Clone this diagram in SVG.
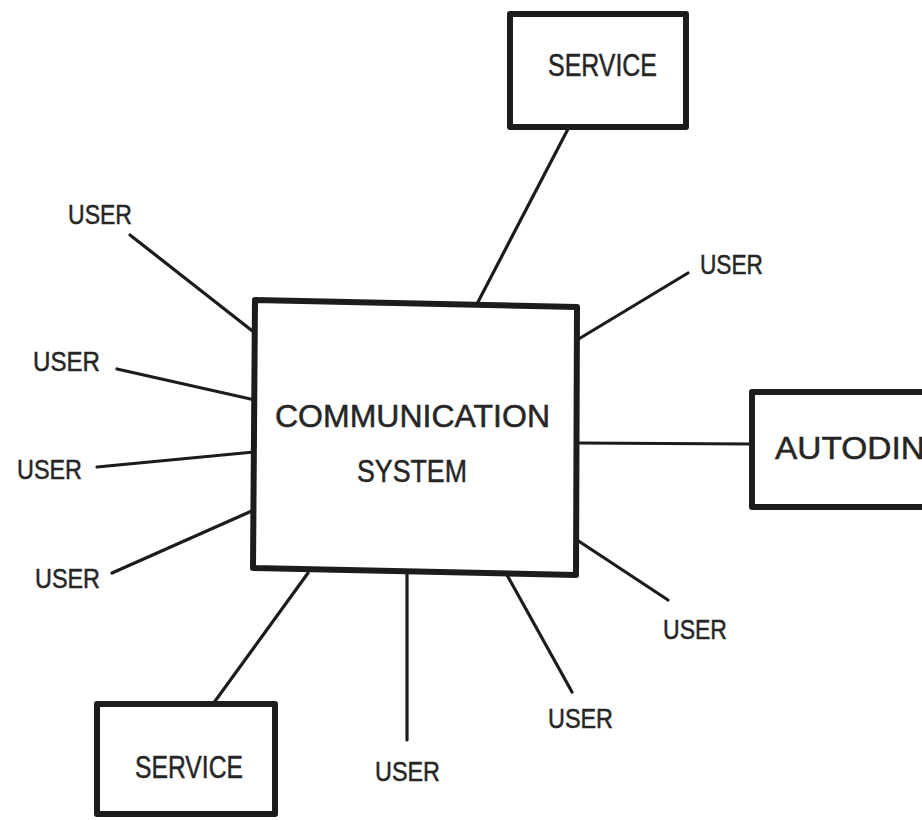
<svg xmlns="http://www.w3.org/2000/svg" width="922" height="820" viewBox="0 0 922 820">
<style>
.box{fill:#fff;stroke:#1c1c1c;stroke-width:6;stroke-linejoin:round}
.ln{stroke:#1c1c1c;stroke-width:3.2;stroke-linecap:round;fill:none}
text{font-family:"Liberation Sans",Arial,sans-serif;fill:#262626;stroke:#262626;stroke-width:0.5}
.u{font-size:28px}
.s{font-size:32px}
.c{font-size:32px}
</style>
<rect width="922" height="820" fill="#fff"/>
<g id="connectors">
<line class="ln" x1="568" y1="129" x2="478" y2="302"/>
<line class="ln" x1="130" y1="235" x2="255" y2="333"/>
<line class="ln" x1="117" y1="369" x2="255" y2="400"/>
<line class="ln" x1="97" y1="467" x2="254" y2="452"/>
<line class="ln" x1="112" y1="573" x2="254" y2="510"/>
<line class="ln" x1="688" y1="273" x2="577" y2="340"/>
<line class="ln" x1="577" y1="443" x2="752" y2="444"/>
<line class="ln" x1="577" y1="540" x2="668" y2="600"/>
<line class="ln" x1="507" y1="575" x2="572" y2="692"/>
<line class="ln" x1="407" y1="573" x2="407" y2="740"/>
<line class="ln" x1="308" y1="573" x2="213" y2="704"/>
</g>
<g id="comm">
<path class="box" d="M255,300 L577,307 L576,575 L253,568 Z"/>
<text class="c" x="275" y="427" textLength="275" lengthAdjust="spacingAndGlyphs">COMMUNICATION</text>
<text class="c" x="357" y="482" textLength="110" lengthAdjust="spacingAndGlyphs">SYSTEM</text>
</g>
<g id="service-top">
<rect class="box" x="510" y="14" width="176" height="113"/>
<text class="s" x="548" y="76" textLength="109" lengthAdjust="spacingAndGlyphs">SERVICE</text>
</g>
<g id="service-bottom">
<rect class="box" x="97" y="704" width="178" height="110"/>
<text class="s" x="135" y="778" textLength="108" lengthAdjust="spacingAndGlyphs">SERVICE</text>
</g>
<g id="autodin">
<rect class="box" x="752" y="392" width="200" height="115"/>
<text class="s" x="775" y="459" textLength="150" lengthAdjust="spacingAndGlyphs">AUTODIN</text>
</g>
<g id="user1"><text class="u" x="68" y="224" textLength="64" lengthAdjust="spacingAndGlyphs">USER</text></g>
<g id="user2"><text class="u" x="33" y="371" textLength="67" lengthAdjust="spacingAndGlyphs">USER</text></g>
<g id="user3"><text class="u" x="17" y="479" textLength="65" lengthAdjust="spacingAndGlyphs">USER</text></g>
<g id="user4"><text class="u" x="35" y="588" textLength="65" lengthAdjust="spacingAndGlyphs">USER</text></g>
<g id="user5"><text class="u" x="700" y="274" textLength="63" lengthAdjust="spacingAndGlyphs">USER</text></g>
<g id="user6"><text class="u" x="663" y="639" textLength="64" lengthAdjust="spacingAndGlyphs">USER</text></g>
<g id="user7"><text class="u" x="548" y="728" textLength="65" lengthAdjust="spacingAndGlyphs">USER</text></g>
<g id="user8"><text class="u" x="375" y="781" textLength="65" lengthAdjust="spacingAndGlyphs">USER</text></g>
</svg>
